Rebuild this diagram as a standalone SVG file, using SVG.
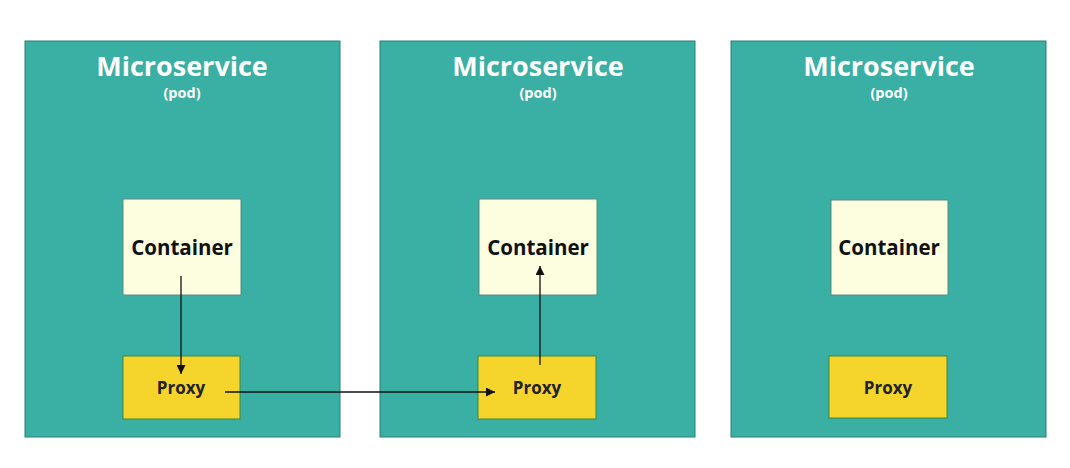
<svg xmlns="http://www.w3.org/2000/svg" width="1070" height="468" viewBox="0 0 1070 468">
<style>
.pod{fill:#3aafa3;stroke:#2a7f76;stroke-width:1}
.cont{fill:#fdfddf;stroke:#5a8a84;stroke-width:1}
.proxy{fill:#f5d42c;stroke:#3f8a3a;stroke-width:1}
.t{font-family:"Open Sans","Noto Sans","Liberation Sans",sans-serif;font-weight:bold;text-anchor:middle}
.title{font-size:27px;fill:#ffffff}
.sub{font-size:14.5px;fill:#ffffff}
.ct{font-size:20.5px;fill:#111111}
.pt{font-size:17px;fill:#222222}
.conn{stroke:#111111;stroke-width:1.3;fill:none;marker-end:url(#ah)}
</style>
<defs>
<marker id="ah" viewBox="0 0 10 10" refX="10" refY="5" markerWidth="9" markerHeight="9" markerUnits="userSpaceOnUse" orient="auto">
<path d="M0,0 L10,5 L0,10 z" fill="#111111"/>
</marker>
</defs>
<rect width="1070" height="468" fill="#ffffff"/>
<g id="pod1">
<rect class="pod" x="25" y="41" width="315" height="396"/>
<text class="t title" x="182" y="76">Microservice</text>
<text class="t sub" x="182" y="98">(pod)</text>
</g>
<g id="pod2">
<rect class="pod" x="380" y="41" width="315" height="396"/>
<text class="t title" x="538" y="76">Microservice</text>
<text class="t sub" x="538" y="98">(pod)</text>
</g>
<g id="pod3">
<rect class="pod" x="731" y="41" width="315" height="396"/>
<text class="t title" x="889" y="76">Microservice</text>
<text class="t sub" x="889" y="98">(pod)</text>
</g>
<g id="container1">
<rect class="cont" x="123" y="199" width="118" height="96"/>
<text class="t ct" x="182" y="255">Container</text>
</g>
<g id="proxy1">
<rect class="proxy" x="123" y="356" width="117" height="63"/>
<text class="t pt" x="181" y="394">Proxy</text>
</g>
<g id="container2">
<rect class="cont" x="479" y="199" width="118" height="96"/>
<text class="t ct" x="538" y="255">Container</text>
</g>
<g id="proxy2">
<rect class="proxy" x="478" y="356" width="118" height="63"/>
<text class="t pt" x="537" y="394">Proxy</text>
</g>
<g id="container3">
<rect class="cont" x="831" y="200" width="117" height="95"/>
<text class="t ct" x="889" y="255">Container</text>
</g>
<g id="proxy3">
<rect class="proxy" x="829" y="356" width="118" height="62"/>
<text class="t pt" x="888" y="394">Proxy</text>
</g>
<g id="connectors">
<line class="conn" x1="181" y1="276" x2="181" y2="374"/>
<line class="conn" x1="225" y1="392" x2="495" y2="392"/>
<line class="conn" x1="540" y1="365" x2="540" y2="266"/>
</g>
</svg>
